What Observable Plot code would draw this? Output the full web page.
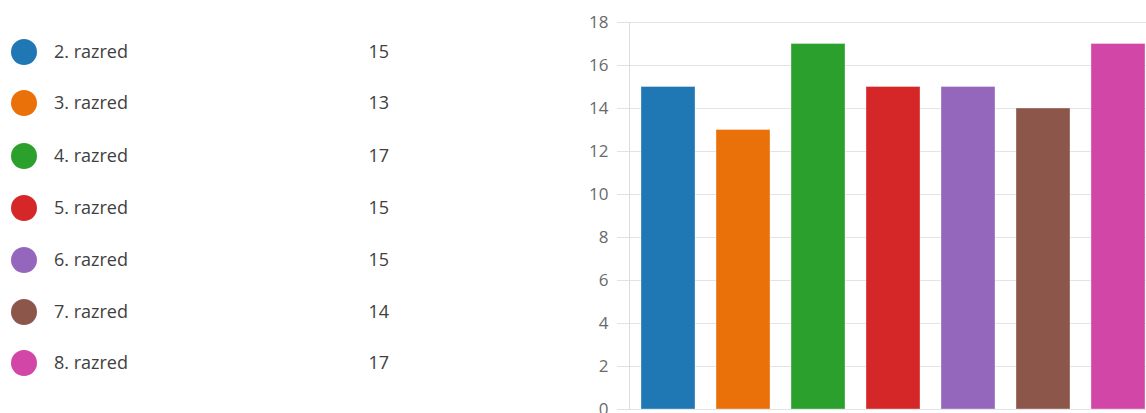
<!DOCTYPE html>
<html>
<head>
<meta charset="utf-8">
<script src="https://cdn.jsdelivr.net/npm/d3@7"></script>
<script src="https://cdn.jsdelivr.net/npm/@observablehq/plot@0.6"></script>
<style>
  html, body { margin: 0; padding: 0; background: #fff; overflow: hidden; width: 1146px; height: 413px; }
  body { position: relative; font-family: "Segoe UI", "Open Sans", "Noto Sans", sans-serif; }
  #legend { position: absolute; left: 0; top: 0; width: 560px; height: 413px; }
  .row { position: absolute; left: 0; height: 30px; width: 400px; }
  .dot { position: absolute; left: 11px; top: 2px; width: 26px; height: 26px; border-radius: 50%; }
  .lab { position: absolute; left: 54px; top: 1px; font-size: 18px; line-height: 26px; color: #404040; }
  .val { position: absolute; right: 11px; top: 1px; font-size: 18px; line-height: 26px; color: #404040; text-align: right; }
  #chart { position: absolute; left: 570px; top: 0; }
  #chart svg { max-width: none; }
</style>
</head>
<body>
<div id="legend"></div>
<div id="chart"></div>
<script>
const categories = ["2. razred", "3. razred", "4. razred", "5. razred", "6. razred", "7. razred", "8. razred"];
const counts = [15, 13, 17, 15, 15, 14, 17];
const colors = ["#1f77b4", "#ea710a", "#2ca02c", "#d62728", "#9467bd", "#8c564b", "#d246a8"];
const yTicks = [0, 2, 4, 6, 8, 10, 12, 14, 16, 18];

const data = categories.map((c, i) => ({category: c, count: counts[i], color: colors[i]}));

// Legend (HTML, left side)
const legend = document.getElementById("legend");
const rowTops = [37, 88, 141, 193, 245, 297, 348];
data.forEach((d, i) => {
  const row = document.createElement("div");
  row.className = "row";
  row.style.top = rowTops[i] + "px";
  const dot = document.createElement("div");
  dot.className = "dot";
  dot.style.background = d.color;
  const lab = document.createElement("div");
  lab.className = "lab";
  lab.textContent = d.category;
  const val = document.createElement("div");
  val.className = "val";
  val.textContent = d.count;
  row.append(dot, lab, val);
  legend.append(row);
});

const chart = Plot.plot({
  width: 586,
  height: 413,
  marginLeft: 59,
  marginRight: 0,
  marginTop: 22,
  marginBottom: 4,
  style: {fontFamily: "'Segoe UI', 'Open Sans', 'Noto Sans', sans-serif", fontSize: "17px", overflow: "visible"},
  x: {domain: categories, paddingInner: 0.28, paddingOuter: 0.14, axis: null},
  y: {domain: [0, 18], ticks: yTicks},
  marks: [
    Plot.gridY(yTicks, {stroke: "#e3e3e3", strokeOpacity: 1}),
    Plot.axisY(yTicks, {tickSize: 12, tickPadding: 9, stroke: "#e3e3e3", strokeOpacity: 1, fill: "#6a6a6a", tickFormat: d => d, label: null}),
    Plot.frame({anchor: "left", stroke: "#dcdcdc", strokeOpacity: 1}),
    Plot.barY(data, {x: "category", y: "count", fill: "color", stroke: "#ffffff", strokeOpacity: 0.35, strokeWidth: 1})
  ]
});
document.getElementById("chart").append(chart);
</script>
</body>
</html>
